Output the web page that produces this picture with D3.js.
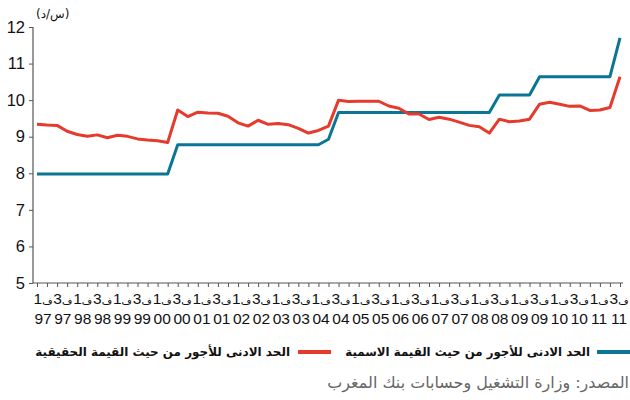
<!DOCTYPE html>
<html>
<head>
<meta charset="utf-8">
<script src="https://cdn.jsdelivr.net/npm/d3@7.9.0/dist/d3.min.js"></script>
<style>
  html, body { margin: 0; padding: 0; background: #fff; }
  svg { display: block; }
  .ar { font-family: "DejaVu Sans", sans-serif; }
</style>
</head>
<body>
<div id="chart"></div>
<script>
// quarter labels shown under the axis (Q1 and Q3 of each year)
const years = ['97', '98', '99', '00', '01', '02', '03', '04', '05', '06', '07', '08', '09', '10', '11'];
const quarterNames = ['ف1', 'ف2', 'ف3', 'ف4'];
const labelQuarters = ['ف1', 'ف3'];

// minimum wage, dirhams per hour, 1997Q1 .. 2011Q3
const nominal = [
  7.98, 7.98, 7.98, 7.98, 7.98, 7.98, 7.98, 7.98, 7.98, 7.98, 7.98, 7.98, 7.98, 7.98,
  8.78, 8.78, 8.78, 8.78, 8.78, 8.78, 8.78, 8.78, 8.78, 8.78, 8.78, 8.78, 8.78, 8.78, 8.78,
  8.93,
  9.66, 9.66, 9.66, 9.66, 9.66, 9.66, 9.66, 9.66, 9.66, 9.66, 9.66, 9.66, 9.66, 9.66, 9.66, 9.66,
  10.14, 10.14, 10.14, 10.14,
  10.64, 10.64, 10.64, 10.64, 10.64, 10.64, 10.64, 10.64,
  11.70
];
const real = [
  9.34, 9.32, 9.31, 9.15, 9.06, 9.01, 9.05, 8.97, 9.04, 9.01,
  8.94, 8.91, 8.89, 8.84, 9.73, 9.55, 9.67, 9.65, 9.64, 9.56,
  9.38, 9.29, 9.45, 9.34, 9.36, 9.33, 9.23, 9.10, 9.17, 9.29,
  10.00, 9.96, 9.97, 9.97, 9.97, 9.84, 9.78, 9.62, 9.62, 9.47,
  9.53, 9.48, 9.40, 9.31, 9.27, 9.10, 9.48, 9.41, 9.43, 9.48,
  9.89, 9.94, 9.89, 9.83, 9.84, 9.72, 9.73, 9.80, 10.64
];
const yTicks = [5, 6, 7, 8, 9, 10, 11, 12];

const seriesNames = {
  nominal: 'الحد الادنى للأجور من حيث  القيمة الاسمية',
  real: 'الحد الادنى للأجور من حيث  القيمة الحقيقية'
};
const unitLabel = '(س/د)';
const sourceText = 'المصدر: وزارة التشغيل وحسابات بنك المغرب';

const blue = '#0b7596';
const red = '#e63a2c';

const width = 630, height = 400;
const quarters = years.flatMap(y => quarterNames.map(q => q + ' ' + y)).slice(0, nominal.length);
const labels = years.flatMap(y => labelQuarters.map(q => ({ q, y, key: q + ' ' + y })));

const svg = d3.select('#chart').append('svg')
  .attr('width', width)
  .attr('height', height);

const x = d3.scalePoint().domain(quarters).range([37, 620]);
const xLab = d3.scalePoint().domain(labels.map(d => d.key)).range([43, 619]);
const y = d3.scaleLinear().domain([5, 12]).range([283, 27]);

// y axis
const yAxis = svg.append('g')
  .attr('transform', 'translate(33,0)')
  .call(d3.axisLeft(y).tickValues(yTicks).tickFormat(d3.format('d')).tickSize(4).tickPadding(4));
yAxis.select('.domain').attr('stroke', '#555').attr('stroke-width', 1.2).attr('d', `M0,${y(12)}V${y(5)}`);
yAxis.selectAll('.tick line').attr('stroke', '#555');
yAxis.selectAll('.tick text')
  .attr('font-family', '"Liberation Sans", Arial, sans-serif')
  .attr('font-size', 16.5)
  .attr('fill', '#111');

// x axis
const xAxis = svg.append('g')
  .attr('transform', `translate(0,${y(5)})`)
  .call(d3.axisBottom(x).tickSize(4).tickFormat(''));
xAxis.select('.domain').attr('stroke', '#555').attr('stroke-width', 1.2).attr('d', `M33,0H623`);
xAxis.selectAll('.tick line').attr('stroke', '#555');

const xl = svg.append('g').attr('font-family', '"Liberation Sans Narrow", "Arial Narrow", sans-serif')
  .attr('font-size', 15.5).attr('fill', '#111').attr('text-anchor', 'middle');
const qt = xl.selectAll('text.q').data(labels).join('text')
  .attr('class', 'q')
  .attr('x', d => xLab(d.key))
  .attr('y', 304);
qt.append('tspan').text(d => d.q.slice(1));
qt.append('tspan')
  .attr('font-family', '"DejaVu Sans", sans-serif')
  .attr('font-size', 10)
  .text(d => d.q[0]);
xl.selectAll('text.yr').data(labels).join('text')
  .attr('class', 'yr')
  .attr('x', d => xLab(d.key))
  .attr('y', 324)
  .text(d => d.y);

// unit
svg.append('text')
  .attr('class', 'ar')
  .attr('x', 36).attr('y', 18)
  .attr('font-size', 12)
  .attr('fill', '#111')
  .text(unitLabel);

// lines
const line = d3.line().x((d, i) => x(quarters[i])).y(d => y(d));
svg.append('path').datum(nominal)
  .attr('fill', 'none').attr('stroke', blue).attr('stroke-width', 3)
  .attr('stroke-linejoin', 'round')
  .attr('d', line);
svg.append('path').datum(real)
  .attr('fill', 'none').attr('stroke', red).attr('stroke-width', 3)
  .attr('stroke-linejoin', 'round')
  .attr('d', line);

// legend
function fitText(sel, target) {
  const w = sel.node().getComputedTextLength();
  const fs = +sel.attr('font-size');
  sel.attr('font-size', fs * target / w);
}
const legend = [
  { key: 'nominal', color: blue, sx: 597, ex: 630, tx: 590, w: 245 },
  { key: 'real', color: red, sx: 298, ex: 331, tx: 290, w: 255 }
];
legend.forEach(d => {
  svg.append('line')
    .attr('x1', d.sx).attr('x2', d.ex).attr('y1', 352).attr('y2', 352)
    .attr('stroke', d.color).attr('stroke-width', 4);
  const t = svg.append('text')
    .attr('class', 'ar')
    .attr('x', d.tx).attr('y', 356)
    .attr('text-anchor', 'end')
    .attr('font-size', 12)
    .attr('font-weight', 'bold')
    .attr('fill', '#111')
    .text(seriesNames[d.key]);
  fitText(t, d.w);
});

// source
const src = svg.append('text')
  .attr('class', 'ar')
  .attr('x', 629).attr('y', 388)
  .attr('text-anchor', 'end')
  .attr('font-size', 14)
  .attr('fill', '#666')
  .text(sourceText);
fitText(src, 302);
</script>
</body>
</html>
